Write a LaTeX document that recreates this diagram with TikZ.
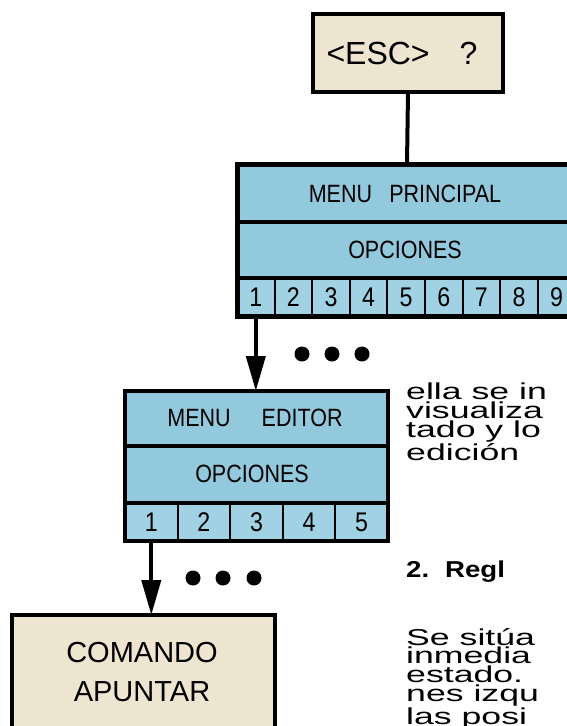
\documentclass[tikz,border=0pt]{standalone}
\usepackage{fontspec}
\setmainfont{Liberation Sans}
\newfontfamily\bodyfont[FakeStretch=1.55]{Liberation Sans}
\newfontfamily\headfont[FakeStretch=1.2]{Liberation Sans}
\usetikzlibrary{arrows.meta}

\definecolor{menublue}{RGB}{146,201,220}
\definecolor{cellblue}{RGB}{160,210,228}
\definecolor{cream}{RGB}{238,229,208}

% narrow engineering-style lettering for the menu panels
\newcommand\dinlabel[1]{\scalebox{0.86}[1]{#1}}

\tikzset{
  x=1pt, y=-1pt,
  panel/.style={draw=black, line width=4pt, anchor=north west, inner sep=0pt, outer sep=0pt},
  bluepanel/.style={panel, fill=menublue},
  creampanel/.style={panel, fill=cream},
  divider/.style={line width=3.5pt},
  cellsep/.style={line width=2pt},
  cell/.style={inner sep=0pt, outer sep=0pt, minimum height=38pt, font=\fontsize{27}{27}\selectfont},
  label/.style={inner sep=0pt, font=\fontsize{25}{25}\selectfont},
  link/.style={line width=4pt},
  downlink/.style={line width=4pt, -{Triangle[length=35pt,width=19pt]}},
  dot/.style={circle, fill=black, inner sep=0pt, minimum size=15pt},
  % base anchor of a multi-line block sits on its last line
  bodytext/.style={anchor=base west, inner sep=0pt, font=\bodyfont\fontsize{23}{18.8}\selectfont, align=left}
}

\begin{document}
\begin{tikzpicture}
\useasboundingbox (0,0) rectangle (567,726);
\fill[white] (0,0) rectangle (567,726);

% key prompt
\node[creampanel, minimum width=190pt, minimum height=78pt] (esc) at (313,14) {};
\node[inner sep=0pt, font=\fontsize{32}{32}\selectfont] (esctext) at (402,53) {<ESC>\hspace{30pt}?};

% main menu
\node[bluepanel, line width=5pt, minimum width=340pt, minimum height=152pt] (mp) at (237,164) {};
\fill[cellblue] (239.5,280) rectangle (580,313.5);
\draw[divider] (237,222) -- (580,222);
\draw[divider] (237,278) -- (580,278);
\node[label] (mptitle) at (405,194) {\dinlabel{MENU\hspace{20pt}PRINCIPAL}};
\node[label] (mpopt) at (405,250) {\dinlabel{OPCIONES}};
\foreach \k in {1,...,9} {
  \node[cell, minimum width=37.6pt] (mpc\k) at ({237+37.6*(\k-0.5)},297) {\dinlabel{\k}};
}
\foreach \k in {1,...,8} {
  \draw[cellsep] ({237+37.6*\k},278) -- ({237+37.6*\k},316);
}
\draw[link] (esc.south) -- (mp.north);

% editor menu
\node[bluepanel, minimum width=263pt, minimum height=150pt] (ed) at (125,391) {};
\fill[cellblue] (127,505) rectangle (386,539);
\draw[divider] (125,446) -- (388,446);
\draw[divider] (125,503) -- (388,503);
\node[label] (edtitle) at (255,418) {\dinlabel{MENU\hspace{36pt}EDITOR}};
\node[label] (edopt) at (252,474) {\dinlabel{OPCIONES}};
\foreach \k in {1,...,5} {
  \node[cell, minimum width=52.6pt] (edc\k) at ({125+52.6*(\k-0.5)},522) {\dinlabel{\k}};
}
\foreach \k in {1,...,4} {
  \draw[cellsep] ({125+52.6*\k},503) -- ({125+52.6*\k},541);
}
\draw[downlink] (mpc1.south) -- (mpc1.south |- ed.north);
\foreach \x [count=\i] in {302,332,362} {
  \node[dot] (mpdot\i) at (\x,354) {};
}

% command box
\node[creampanel, minimum width=263pt, minimum height=140pt] (cmd) at (12,615) {};
\node[inner sep=0pt, align=center, font=\fontsize{29}{39}\selectfont] (cmdtext) at (142,672) {COMANDO\\APUNTAR};
\draw[downlink] (edc1.south) -- (edc1.south |- cmd.north);
\foreach \x [count=\i] in {193,223,254} {
  \node[dot] (eddot\i) at (\x,578) {};
}

% running text beside the chart
\node[bodytext] (para1) at (406,460) {ella se in\\visualiza\\tado y lo\\edición};
\node[anchor=base west, inner sep=0pt, font=\headfont\bfseries\fontsize{23}{23}\selectfont] (head) at (406,577) {2.\hspace{16pt}Regl};
\node[bodytext] (para2) at (406,724) {Se sitúa\\inmedia\\estado.\\nes izqu\\las posi};
\end{tikzpicture}
\end{document}
